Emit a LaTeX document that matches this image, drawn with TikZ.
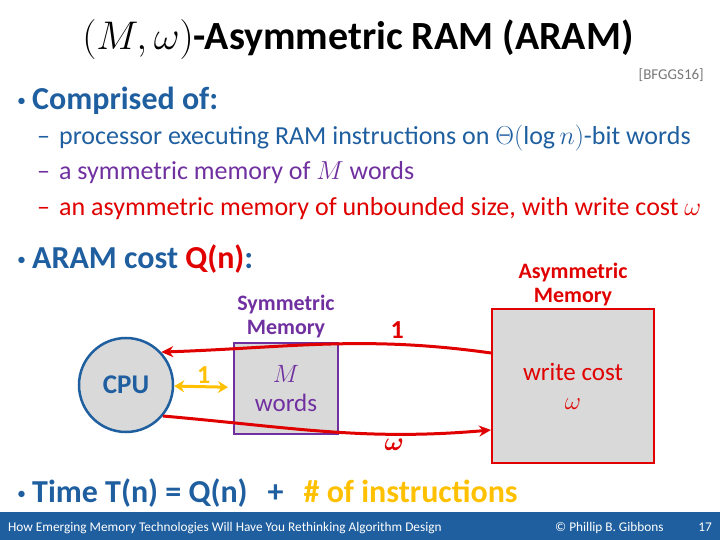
\RequirePackage{fix-cm}
\documentclass[tikz,border=0pt]{standalone}
\usepackage{amsmath,bm}
\usepackage{fontspec}
\setmainfont{Carlito}
\usetikzlibrary{arrows.meta,positioning,calc}

\definecolor{slideblue}{RGB}{31,95,160}
\definecolor{mempurple}{RGB}{112,48,160}
\definecolor{memred}{RGB}{224,0,0}
\definecolor{instyellow}{RGB}{255,192,0}
\definecolor{boxgray}{RGB}{217,217,217}
\definecolor{citegray}{RGB}{120,120,120}

\newcommand{\slidebullet}{\raisebox{3pt}{\fontsize{18}{20}\selectfont\mdseries •}\hspace{6pt}}

\begin{document}
\begin{tikzpicture}[x=1pt, y=-1pt,
    txt/.style={anchor=base west, inner sep=0pt, font=\fontsize{26}{30}\selectfont},
    head/.style={anchor=base west, inner sep=0pt, font=\fontsize{32}{36}\selectfont\bfseries, text=slideblue},
    mem/.style={draw, line width=2pt, fill=boxgray, align=center, font=\fontsize{25}{29}\selectfont},
    memcap/.style={align=center, inner sep=1pt, font=\fontsize{22}{24}\selectfont\bfseries},
    lbl/.style={inner sep=1pt, font=\fontsize{26}{28}\selectfont\bfseries},
    redarrow/.style={-{Stealth[length=12pt,width=11pt]}, line width=3pt, draw=memred},
    foot/.style={anchor=base west, inner sep=0pt, text=white, font=\fontsize{13.3}{15}\selectfont}
]
    \useasboundingbox (0,0) rectangle (720,540);
    \fill[slideblue] (0,512) rectangle (720,540);

    \node[anchor=base, inner sep=0pt, font=\fontsize{40}{44}\selectfont] (title) at (358,50)
        {$(M,\omega)$\textbf{-Asymmetric RAM (ARAM)}};
    \node[anchor=base east, inner sep=0pt, text=citegray, font=\fontsize{15}{17}\selectfont] (cite) at (704,80) {[BFGGS16]};

    \node[head] (comp) at (17,110) {\slidebullet Comprised of:};
    \node[txt, text=slideblue] (proc) at (37,145) {–\hspace{9pt}processor executing RAM instructions on $\Theta(\log n)$-bit words};
    \node[txt, text=mempurple] (symitem) at (37,180) {–\hspace{9pt}a symmetric memory of $M$ words};
    \node[txt, text=memred] (asymitem) at (37,215) {–\hspace{9pt}an asymmetric memory of unbounded size, with write cost $\omega$};
    \node[head] (cost) at (17,268) {\slidebullet ARAM cost \textcolor{memred}{Q(n)}:};
    \node[head] (time) at (17,502) {\slidebullet Time T(n) = Q(n)\hspace{20pt}+\hspace{20pt}\textcolor{instyellow}{\# of instructions}};

    \node[circle, draw=slideblue, line width=2.5pt, fill=boxgray, minimum size=94pt, text=slideblue,
        font=\fontsize{27}{30}\selectfont\bfseries] (cpu) at (126,385) {CPU};
    \node[mem, draw=mempurple, text=mempurple, minimum width=104pt, minimum height=91pt] (sym) at (286,388.5) {$M$\\words};
    \node[mem, draw=memred, text=memred, minimum width=162pt, minimum height=154pt] (asym) at (573,386) {write cost\\$\omega$};
    \node[memcap, text=mempurple, above=3pt of sym] (symcap) {Symmetric\\Memory};
    \node[memcap, text=memred, above=1pt of asym] (asymcap) {Asymmetric\\Memory};

    \draw[{Stealth[length=10pt,width=12pt]}-{Stealth[length=10pt,width=12pt]}, line width=3pt, instyellow, shorten >=5pt]
        (cpu) -- (sym) node[lbl, midway, above=1pt, text=instyellow] (one) {1};
    \draw[redarrow] ([yshift=33pt]asym.west) to[out=172, in=2]
        node[lbl, pos=0.27, above=3pt, text=memred] (readone) {1} (cpu.43);
    \draw[redarrow] (cpu.-40) to[out=-5, in=185]
        node[lbl, pos=0.72, below=2pt, text=memred] (writew) {$\bm{\omega}$} ([yshift=-44pt]asym.west);

    \node[foot] (talk) at (8,531) {How Emerging Memory Technologies Will Have You Rethinking Algorithm Design};
    \node[foot] (author) at (555,531) {© Phillip B. Gibbons};
    \node[foot, anchor=base east] (page) at (712,531) {17};
\end{tikzpicture}
\end{document}
